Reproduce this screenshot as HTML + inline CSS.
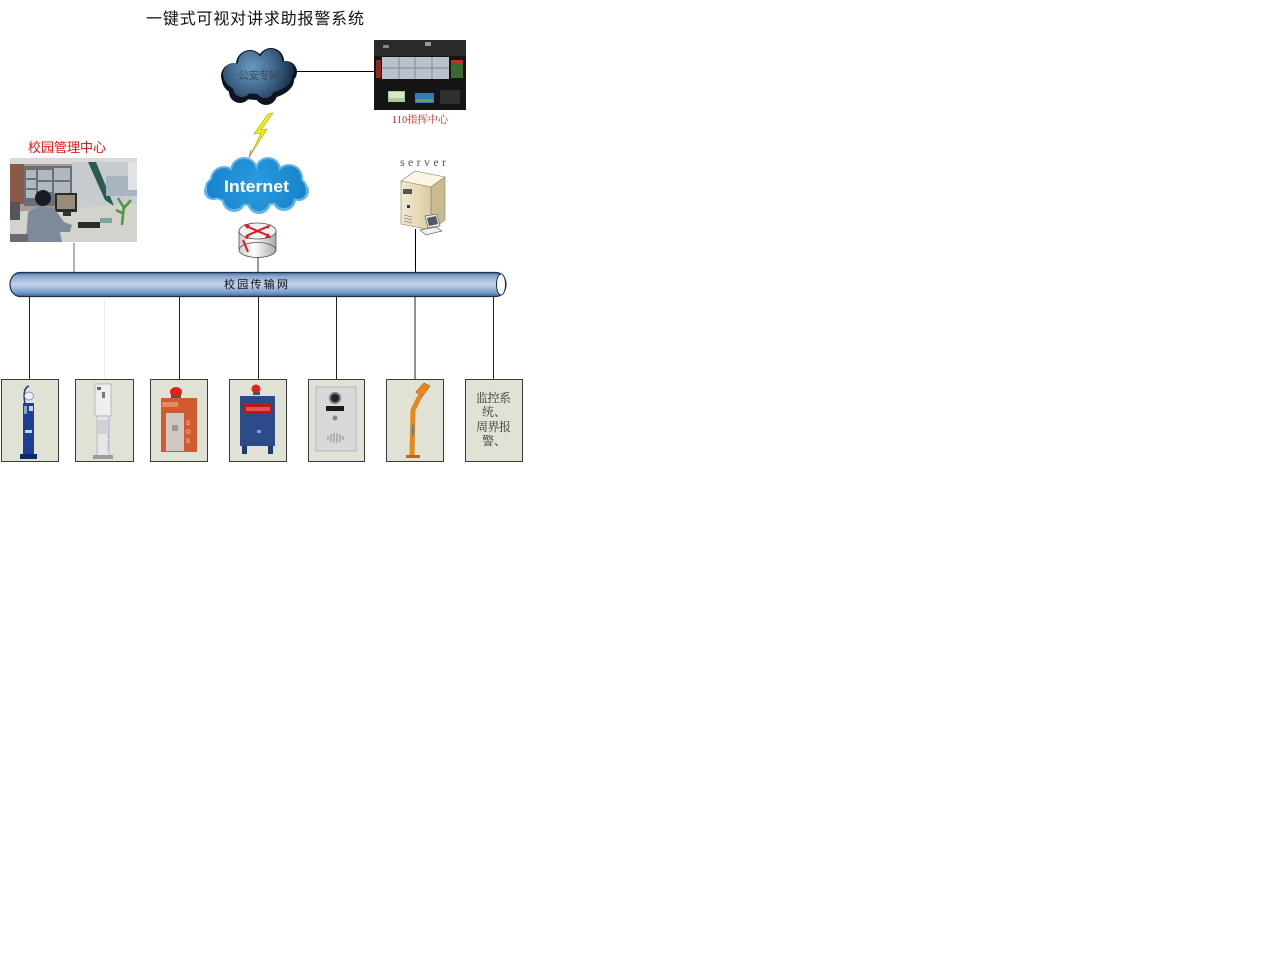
<!DOCTYPE html>
<html><head><meta charset="utf-8"><style>
html,body{margin:0;padding:0;background:#fff;}
svg{display:block;}
</style></head><body>
<svg width="1280" height="960" viewBox="0 0 1280 960" xmlns="http://www.w3.org/2000/svg">
<defs>
<linearGradient id="pipe" x1="0" y1="0" x2="0" y2="1">
<stop offset="0" stop-color="#4a6d9c"/>
<stop offset="0.15" stop-color="#88a9d3"/>
<stop offset="0.5" stop-color="#c3d4ea"/>
<stop offset="0.85" stop-color="#7399c9"/>
<stop offset="1" stop-color="#3f6598"/>
</linearGradient>
<radialGradient id="darkcloud" gradientUnits="userSpaceOnUse" cx="252" cy="68" r="40">
<stop offset="0" stop-color="#6a98c0"/>
<stop offset="0.55" stop-color="#41698c"/>
<stop offset="1" stop-color="#1d3550"/>
</radialGradient>
<radialGradient id="netcloud" gradientUnits="userSpaceOnUse" cx="256" cy="185" r="50">
<stop offset="0" stop-color="#2a9ce2"/>
<stop offset="1" stop-color="#1782ca"/>
</radialGradient>
<linearGradient id="cyl" x1="0" y1="0" x2="1" y2="0">
<stop offset="0" stop-color="#cfcfcf"/>
<stop offset="0.4" stop-color="#ffffff"/>
<stop offset="1" stop-color="#a9a9a9"/>
</linearGradient>
<linearGradient id="srv" x1="0" y1="0" x2="1" y2="0">
<stop offset="0" stop-color="#f3ead0"/>
<stop offset="1" stop-color="#d9cba4"/>
</linearGradient>
</defs>

<!-- Title -->
<text x="146" y="24" font-family="Liberation Sans, Noto Sans CJK SC, sans-serif" font-size="16" fill="#111" textLength="218" lengthAdjust="spacing">一键式可视对讲求助报警系统</text>

<!-- connector cloud to 110 -->
<line x1="294" y1="71.5" x2="374" y2="71.5" stroke="#000" stroke-width="1"/>

<!-- 公安专网 dark cloud -->
<g fill="#0b1420">
<ellipse cx="258" cy="80" rx="36" ry="20"/>
<circle cx="234" cy="76" r="13"/>
<circle cx="250" cy="64" r="14"/>
<circle cx="271" cy="61" r="13"/>
<circle cx="286" cy="72" r="11"/>
<circle cx="240" cy="92" r="11"/>
<circle cx="266" cy="94" r="11"/>
</g>
<g fill="url(#darkcloud)">
<ellipse cx="258" cy="77" rx="34" ry="17"/>
<circle cx="234" cy="74" r="11"/>
<circle cx="250" cy="63" r="12"/>
<circle cx="271" cy="60" r="11"/>
<circle cx="285" cy="70" r="9"/>
<circle cx="242" cy="88" r="9"/>
<circle cx="265" cy="89" r="9"/>
</g>
<text x="238" y="79" font-family="Liberation Sans, Noto Sans CJK SC, sans-serif" font-size="11" fill="#3a4a5a" textLength="42" lengthAdjust="spacing">公安专网</text>

<!-- 110 command center image -->
<rect x="374" y="40" width="92" height="70" fill="#151515"/>
<rect x="374" y="40" width="92" height="16" fill="#2a2a2a"/>
<rect x="383" y="45" width="6" height="3" fill="#888"/>
<rect x="425" y="42" width="6" height="4" fill="#999"/>
<rect x="382" y="57" width="67" height="22" fill="#b8c2cc"/>
<g stroke="#6a7480" stroke-width="0.7">
<line x1="382" y1="68" x2="449" y2="68"/>
<line x1="399" y1="57" x2="399" y2="79"/>
<line x1="415" y1="57" x2="415" y2="79"/>
<line x1="432" y1="57" x2="432" y2="79"/>
</g>
<rect x="376" y="60" width="5" height="18" fill="#8a2a20"/>
<rect x="451" y="62" width="12" height="16" fill="#3a6a30"/>
<rect x="451" y="60" width="12" height="3" fill="#c03020"/>
<rect x="388" y="91" width="17" height="11" fill="#a8c8a0"/>
<rect x="389" y="92" width="15" height="6" fill="#d8e8c0"/>
<rect x="415" y="93" width="19" height="10" fill="#3a78c0"/>
<rect x="416" y="99" width="17" height="3" fill="#6aa050"/>
<rect x="440" y="90" width="20" height="14" fill="#303030"/>
<text x="392" y="123" font-family="Liberation Serif, Noto Serif CJK SC, serif" font-size="10" fill="#e01010" textLength="56" lengthAdjust="spacing">110指挥中心</text>

<!-- lightning -->
<line x1="251" y1="150" x2="249" y2="158" stroke="#8a8a6a" stroke-width="1"/>
<polygon points="268,114 254,134 261,133 250,156 267,129 261,130 273,113" fill="#f4f000" stroke="#9a9a30" stroke-width="0.6"/>

<!-- Internet cloud -->
<g fill="#5fb4ea">
<ellipse cx="256" cy="187" rx="51" ry="19"/>
<circle cx="224" cy="180" r="14"/>
<circle cx="244" cy="171" r="14"/>
<circle cx="268" cy="170" r="13"/>
<circle cx="289" cy="178" r="14"/>
<circle cx="299" cy="191" r="10"/>
<circle cx="213" cy="191" r="9"/>
<circle cx="234" cy="200" r="12"/>
<circle cx="259" cy="202" r="12"/>
<circle cx="284" cy="199" r="12"/>
</g>
<g fill="url(#netcloud)">
<ellipse cx="256" cy="187" rx="49" ry="17"/>
<circle cx="224" cy="180" r="12"/>
<circle cx="244" cy="171" r="12"/>
<circle cx="268" cy="170" r="11"/>
<circle cx="289" cy="178" r="12"/>
<circle cx="298" cy="191" r="8"/>
<circle cx="214" cy="191" r="7"/>
<circle cx="234" cy="199" r="10"/>
<circle cx="259" cy="201" r="10"/>
<circle cx="284" cy="198" r="10"/>
</g>
<text x="224" y="192" font-family="Liberation Sans, sans-serif" font-size="17" font-weight="bold" fill="#ffffff" textLength="65" lengthAdjust="spacingAndGlyphs">Internet</text>

<!-- router -->
<rect x="239" y="231" width="37" height="19" fill="url(#cyl)"/>
<ellipse cx="257.5" cy="250" rx="18.5" ry="7.5" fill="url(#cyl)" stroke="#555" stroke-width="0.8"/>
<line x1="239" y1="231" x2="239" y2="250" stroke="#555" stroke-width="0.8"/>
<line x1="276" y1="231" x2="276" y2="250" stroke="#555" stroke-width="0.8"/>
<ellipse cx="257.5" cy="231" rx="18.5" ry="8" fill="#f2f2f2" stroke="#555" stroke-width="0.8"/>
<g stroke="#e01818" stroke-width="2" fill="none">
<line x1="246" y1="226" x2="269" y2="236"/>
<line x1="246" y1="236" x2="269" y2="226"/>
<line x1="243" y1="240" x2="248" y2="252"/>
</g>
<g fill="#e01818">
<polygon points="244,224 250,225 247,229"/>
<polygon points="271,238 265,238 268,233"/>
<polygon points="271,224 266,227 268,229"/>
<polygon points="244,238 249,235 248,239"/>
</g>
<line x1="258" y1="257" x2="258" y2="272" stroke="#333" stroke-width="1"/>

<!-- 校园管理中心 -->
<text x="28" y="152" font-family="Liberation Sans, Noto Sans CJK SC, sans-serif" font-size="13" fill="#ee1111" textLength="78" lengthAdjust="spacing">校园管理中心</text>
<rect x="10" y="158" width="127" height="84" fill="#a89a90"/>
<rect x="10" y="158" width="127" height="6" fill="#d8d8d8"/>
<rect x="10" y="164" width="14" height="40" fill="#8a5a48"/>
<rect x="24" y="166" width="48" height="40" fill="#6a7078"/>
<g fill="#b0b8c0">
<rect x="26" y="170" width="10" height="8"/><rect x="26" y="180" width="10" height="8"/><rect x="26" y="190" width="10" height="8"/>
<rect x="38" y="170" width="14" height="10"/><rect x="38" y="182" width="14" height="10"/>
<rect x="54" y="168" width="16" height="12"/><rect x="54" y="182" width="16" height="12"/>
</g>
<rect x="72" y="162" width="65" height="46" fill="#c8ccd0"/>
<polygon points="88,162 105,200 114,206 96,162" fill="#2a5a50"/>
<rect x="106" y="176" width="31" height="20" fill="#a8b4c0"/>
<rect x="128" y="162" width="9" height="28" fill="#e0e2e6"/>
<polygon points="10,212 137,204 137,242 10,242" fill="#d4d2cc"/>
<rect x="10" y="202" width="10" height="18" fill="#555"/>
<rect x="55" y="193" width="22" height="19" fill="#2a2a2a"/>
<rect x="57" y="195" width="18" height="14" fill="#9a8a78"/>
<rect x="63" y="212" width="8" height="4" fill="#333"/>
<circle cx="43" cy="198" r="8" fill="#1a1a22"/>
<polygon points="26,242 28,212 40,206 54,208 64,222 72,225 70,232 60,232 62,242" fill="#7c8a9a"/>
<rect x="78" y="222" width="22" height="6" fill="#2a2a2a"/>
<rect x="100" y="218" width="12" height="5" fill="#7aa8a0"/>
<path d="M122,225 L124,205 M124,208 L118,198 M124,208 L131,200 M124,214 L116,210" stroke="#4a9a3a" stroke-width="2.5" fill="none"/>
<rect x="10" y="234" width="18" height="8" fill="#6a6a70"/>
<line x1="74" y1="243" x2="74" y2="272" stroke="#666" stroke-width="1"/>

<!-- server -->
<text x="400" y="166" font-family="Liberation Serif, serif" font-size="12" fill="#555" textLength="46" lengthAdjust="spacing">server</text>
<polygon points="401,181 415,171 445,177 431,187" fill="#fbf6e4" stroke="#8a8060" stroke-width="0.6"/>
<polygon points="431,187 445,177 445,220 431,230" fill="#c9bb92" stroke="#8a8060" stroke-width="0.6"/>
<polygon points="401,181 431,187 431,230 401,224" fill="url(#srv)" stroke="#8a8060" stroke-width="0.6"/>
<rect x="403" y="189" width="9" height="5" fill="#555"/>
<rect x="407" y="205" width="3" height="3" fill="#334"/>
<g stroke="#888" stroke-width="0.8"><line x1="404" y1="215" x2="412" y2="217"/><line x1="404" y1="218" x2="412" y2="220"/><line x1="404" y1="221" x2="412" y2="223"/></g>
<polygon points="425,216 437,214 440,226 428,228" fill="#e8e8ea" stroke="#666" stroke-width="0.7"/>
<polygon points="427,218 436,216 438,224 429,226" fill="#556"/>
<polygon points="420,230 436,227 442,231 426,235" fill="#f0f0f0" stroke="#666" stroke-width="0.7"/>
<line x1="415.5" y1="229" x2="415.5" y2="272" stroke="#000" stroke-width="1"/>

<!-- pipe bus -->
<rect x="10" y="272.5" width="496" height="24" rx="10" ry="12" fill="url(#pipe)" stroke="#1e2e44" stroke-width="1.2"/>
<ellipse cx="501" cy="284.5" rx="4.5" ry="10.5" fill="#ffffff" stroke="#1e2e44" stroke-width="1"/>
<text x="224" y="288" font-family="Liberation Sans, Noto Sans CJK SC, sans-serif" font-size="11" fill="#111" textLength="64" lengthAdjust="spacing">校园传输网</text>

<!-- drop lines -->
<g stroke="#222" stroke-width="1">
<line x1="29.5" y1="297" x2="29.5" y2="379"/>
<line x1="179.5" y1="297" x2="179.5" y2="379"/>
<line x1="258.5" y1="297" x2="258.5" y2="379"/>
<line x1="336.5" y1="297" x2="336.5" y2="379"/>
<line x1="415" y1="297" x2="415" y2="379"/>
<line x1="493.5" y1="297" x2="493.5" y2="379"/>
</g>
<line x1="104.5" y1="297" x2="104.5" y2="379" stroke="#ececec" stroke-width="1"/>

<!-- device boxes -->
<g fill="#dfe2d4" stroke="#3a3a3a" stroke-width="1">
<rect x="1.5" y="379.5" width="57" height="82"/>
<rect x="75.5" y="379.5" width="58" height="82"/>
<rect x="150.5" y="379.5" width="57" height="82"/>
<rect x="229.5" y="379.5" width="57" height="82"/>
<rect x="308.5" y="379.5" width="56" height="82"/>
<rect x="386.5" y="379.5" width="57" height="82"/>
<rect x="465.5" y="379.5" width="57" height="82"/>
</g>

<!-- box1 blue pole -->
<path d="M25,404 Q22,388 29,386" stroke="#24306a" stroke-width="1.5" fill="none"/>
<ellipse cx="29" cy="396" rx="4.5" ry="4" fill="#eef0f6" stroke="#7a86a8" stroke-width="0.8"/>
<rect x="23" y="403" width="11" height="52" fill="#1c3f92"/>
<rect x="24" y="406" width="3" height="8" fill="#8aa0d0"/>
<rect x="29" y="406" width="4" height="5" fill="#c8d2ea"/>
<rect x="25" y="430" width="7" height="3" fill="#c8d2ea"/>
<rect x="20" y="454" width="17" height="5" fill="#0e2a6e"/>

<!-- box2 white pole -->
<rect x="95" y="384" width="16" height="32" fill="#eceeef" stroke="#a8aaae" stroke-width="0.7"/>
<rect x="97" y="416" width="12" height="40" fill="#e4e6e8" stroke="#a8aaae" stroke-width="0.7"/>
<rect x="97" y="387" width="4" height="3" fill="#666"/>
<rect x="102" y="392" width="3" height="6" fill="#777"/>
<rect x="98" y="420" width="9" height="14" fill="#cfd2d6"/>
<line x1="108" y1="420" x2="108" y2="452" stroke="#6a7ac8" stroke-width="0.8" stroke-dasharray="1,1.5"/>
<rect x="93" y="455" width="20" height="4" fill="#9a9ca0"/>

<!-- box3 orange SOS box -->
<ellipse cx="176" cy="392" rx="6" ry="5" fill="#e02020"/>
<rect x="171" y="395" width="10" height="3" fill="#555"/>
<rect x="161" y="398" width="36" height="54" fill="#d35a2e"/>
<rect x="162" y="402" width="16" height="5" fill="#e88a60"/>
<rect x="166" y="413" width="18" height="38" fill="#cdc8c0"/>
<rect x="172" y="425" width="6" height="6" fill="#999"/>
<g fill="#f4e0d0" font-family="Liberation Sans, sans-serif" font-size="6"><text x="186" y="425">S</text><text x="186" y="434">O</text><text x="186" y="443">S</text></g>

<!-- box4 blue alarm box -->
<circle cx="256" cy="389" r="4.5" fill="#e42020"/>
<rect x="253" y="392" width="7" height="3" fill="#555"/>
<rect x="240" y="396" width="35" height="50" fill="#2d4a8a"/>
<rect x="244" y="404" width="28" height="10" fill="#b81a1a"/>
<rect x="246" y="407" width="24" height="4" fill="#e85050"/>
<rect x="242" y="446" width="5" height="8" fill="#203a70"/>
<rect x="268" y="446" width="5" height="8" fill="#203a70"/>
<rect x="257" y="430" width="4" height="3" fill="#8aa0d0"/>

<!-- box5 silver intercom panel -->
<rect x="316" y="387" width="40" height="64" fill="#d6d8da" stroke="#a6a8aa" stroke-width="0.7"/>
<circle cx="335" cy="398" r="6" fill="#777"/>
<circle cx="335" cy="398" r="4" fill="#222"/>
<rect x="326" y="406" width="18" height="5" fill="#1a1a1a"/>
<circle cx="335" cy="418" r="2.5" fill="#888"/>
<g stroke="#888" stroke-width="1"><line x1="328" y1="436" x2="328" y2="440"/><line x1="331" y1="434" x2="331" y2="442"/><line x1="334" y1="433" x2="334" y2="443"/><line x1="337" y1="433" x2="337" y2="443"/><line x1="340" y1="434" x2="340" y2="442"/><line x1="343" y1="436" x2="343" y2="440"/></g>

<!-- box6 orange pole -->
<path d="M412,456 L413,410 L420,396" stroke="#e48a1a" stroke-width="5" fill="none"/>
<polygon points="416,392 424,383 430,386 422,397" fill="#e48a1a" stroke="#a85a10" stroke-width="0.6"/>
<rect x="412" y="425" width="2" height="10" fill="#3a8ac8"/>
<rect x="406" y="455" width="14" height="3" fill="#b86a10"/>

<!-- box7 text -->
<g font-family="Liberation Serif, Noto Serif CJK SC, serif" font-size="12" fill="#333">
<text x="476" y="402" textLength="35" lengthAdjust="spacing">监控系</text>
<text x="482" y="416">统、</text>
<text x="476" y="431" textLength="35" lengthAdjust="spacing">周界报</text>
<text x="482" y="445">警、</text>
</g>
</svg>
</body></html>
